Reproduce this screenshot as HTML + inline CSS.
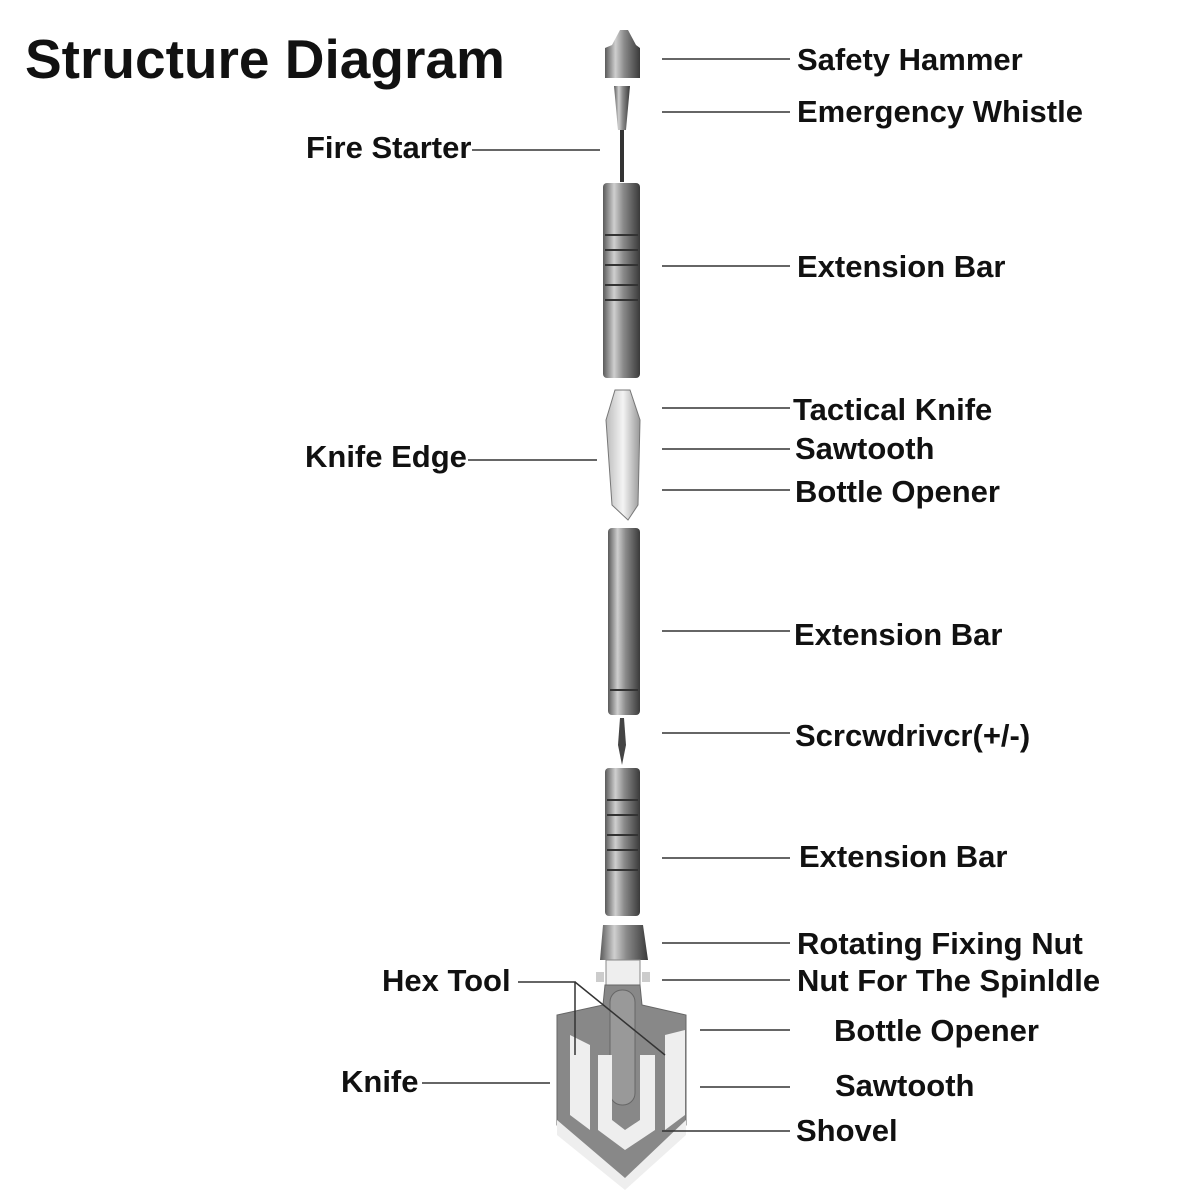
<!DOCTYPE html>
<html><head><meta charset="utf-8"><style>
html,body{margin:0;padding:0;background:#fff;}
svg{display:block}
text{font-family:"Liberation Sans",sans-serif;font-weight:bold;fill:#111}
</style></head><body>
<svg width="1200" height="1200" viewBox="0 0 1200 1200">
<defs>
<linearGradient id="m" x1="0" x2="1" y1="0" y2="0">
<stop offset="0" stop-color="#5a5a5a"/><stop offset="0.3" stop-color="#cfcfcf"/><stop offset="0.55" stop-color="#8a8a8a"/><stop offset="1" stop-color="#3a3a3a"/>
</linearGradient>
<linearGradient id="k" x1="0" x2="1"><stop offset="0" stop-color="#bbb"/><stop offset="0.5" stop-color="#f4f4f4"/><stop offset="1" stop-color="#999"/></linearGradient>
</defs>
<text x="25" y="78" font-size="55">Structure Diagram</text>
<!-- tool -->
<path d="M612 45 L620 30 L628 30 L636 45 L640 48 L640 78 L605 78 L605 48 Z" fill="url(#m)"/>
<path d="M614 86 L630 86 L626 130 L618 130 Z" fill="url(#m)"/>
<rect x="620" y="130" width="4" height="52" fill="#333"/>
<rect x="603" y="183" width="37" height="195" rx="4" fill="url(#m)"/>
<g stroke="#333" stroke-width="2">
<line x1="605" y1="235" x2="638" y2="235"/><line x1="605" y1="250" x2="638" y2="250"/><line x1="605" y1="265" x2="638" y2="265"/><line x1="605" y1="285" x2="638" y2="285"/><line x1="605" y1="300" x2="638" y2="300"/>
</g>
<path d="M615 390 L630 390 L640 420 L638 505 L628 520 L612 505 L606 420 Z" fill="url(#k)" stroke="#777"/>
<rect x="608" y="528" width="32" height="187" rx="4" fill="url(#m)"/>
<line x1="610" y1="690" x2="638" y2="690" stroke="#333" stroke-width="2"/>
<path d="M620 718 L624 718 L626 745 L622 765 L618 745 Z" fill="#444"/>
<rect x="605" y="768" width="35" height="148" rx="4" fill="url(#m)"/>
<g stroke="#333" stroke-width="2">
<line x1="607" y1="800" x2="638" y2="800"/><line x1="607" y1="815" x2="638" y2="815"/><line x1="607" y1="835" x2="638" y2="835"/><line x1="607" y1="850" x2="638" y2="850"/><line x1="607" y1="870" x2="638" y2="870"/>
</g>
<path d="M603 925 L643 925 L648 960 L600 960 Z" fill="url(#m)"/>
<rect x="606" y="960" width="34" height="25" fill="#eee" stroke="#888"/>
<rect x="596" y="972" width="8" height="10" fill="#ccc"/>
<rect x="642" y="972" width="8" height="10" fill="#ccc"/>
<path d="M605 985 L640 985 L642 1005 L686 1015 L686 1125 L625 1185 L557 1125 L557 1015 L603 1005 Z" fill="#888" stroke="#666"/>
<path d="M557 1120 L625 1178 L686 1120 L686 1135 L625 1190 L557 1135 Z" fill="#eee"/>
<rect x="610" y="990" width="25" height="115" rx="12" fill="#999" stroke="#666"/>
<path d="M598 1055 L612 1055 L612 1120 L625 1130 L640 1120 L640 1055 L655 1055 L655 1130 L625 1150 L598 1130 Z" fill="#eee"/>
<path d="M570 1035 L590 1045 L590 1130 L570 1115 Z" fill="#eee"/>
<path d="M665 1035 L685 1030 L685 1115 L665 1130 Z" fill="#eee"/>
<g stroke="#333" stroke-width="1.5" fill="none">
<line x1="662" y1="59" x2="790" y2="59"/>
<line x1="662" y1="112" x2="790" y2="112"/>
<line x1="472" y1="150" x2="600" y2="150"/>
<line x1="662" y1="266" x2="790" y2="266"/>
<line x1="662" y1="408" x2="790" y2="408"/>
<line x1="662" y1="449" x2="790" y2="449"/>
<line x1="662" y1="490" x2="790" y2="490"/>
<line x1="468" y1="460" x2="597" y2="460"/>
<line x1="662" y1="631" x2="790" y2="631"/>
<line x1="662" y1="733" x2="790" y2="733"/>
<line x1="662" y1="858" x2="790" y2="858"/>
<line x1="662" y1="943" x2="790" y2="943"/>
<line x1="662" y1="980" x2="790" y2="980"/>
<polyline points="518,982 575,982 575,1055"/>
<line x1="575" y1="982" x2="665" y2="1055"/>
<line x1="700" y1="1030" x2="790" y2="1030"/>
<line x1="422" y1="1083" x2="550" y2="1083"/>
<line x1="700" y1="1087" x2="790" y2="1087"/>
<line x1="662" y1="1131" x2="790" y2="1131"/>
</g>
<!-- labels -->
<g font-size="31">
<text x="797" y="70">Safety Hammer</text>
<text x="797" y="122">Emergency Whistle</text>
<text x="306" y="158">Fire Starter</text>
<text x="797" y="277">Extension Bar</text>
<text x="793" y="420">Tactical Knife</text>
<text x="795" y="459">Sawtooth</text>
<text x="795" y="502">Bottle Opener</text>
<text x="305" y="467">Knife Edge</text>
<text x="794" y="645">Extension Bar</text>
<text x="795" y="746">Scrcwdrivcr(+/-)</text>
<text x="799" y="867">Extension Bar</text>
<text x="797" y="954">Rotating Fixing Nut</text>
<text x="797" y="991">Nut For The Spinldle</text>
<text x="382" y="991">Hex Tool</text>
<text x="834" y="1041">Bottle Opener</text>
<text x="341" y="1092">Knife</text>
<text x="835" y="1096">Sawtooth</text>
<text x="796" y="1141">Shovel</text>
</g>
</svg>
</body></html>
